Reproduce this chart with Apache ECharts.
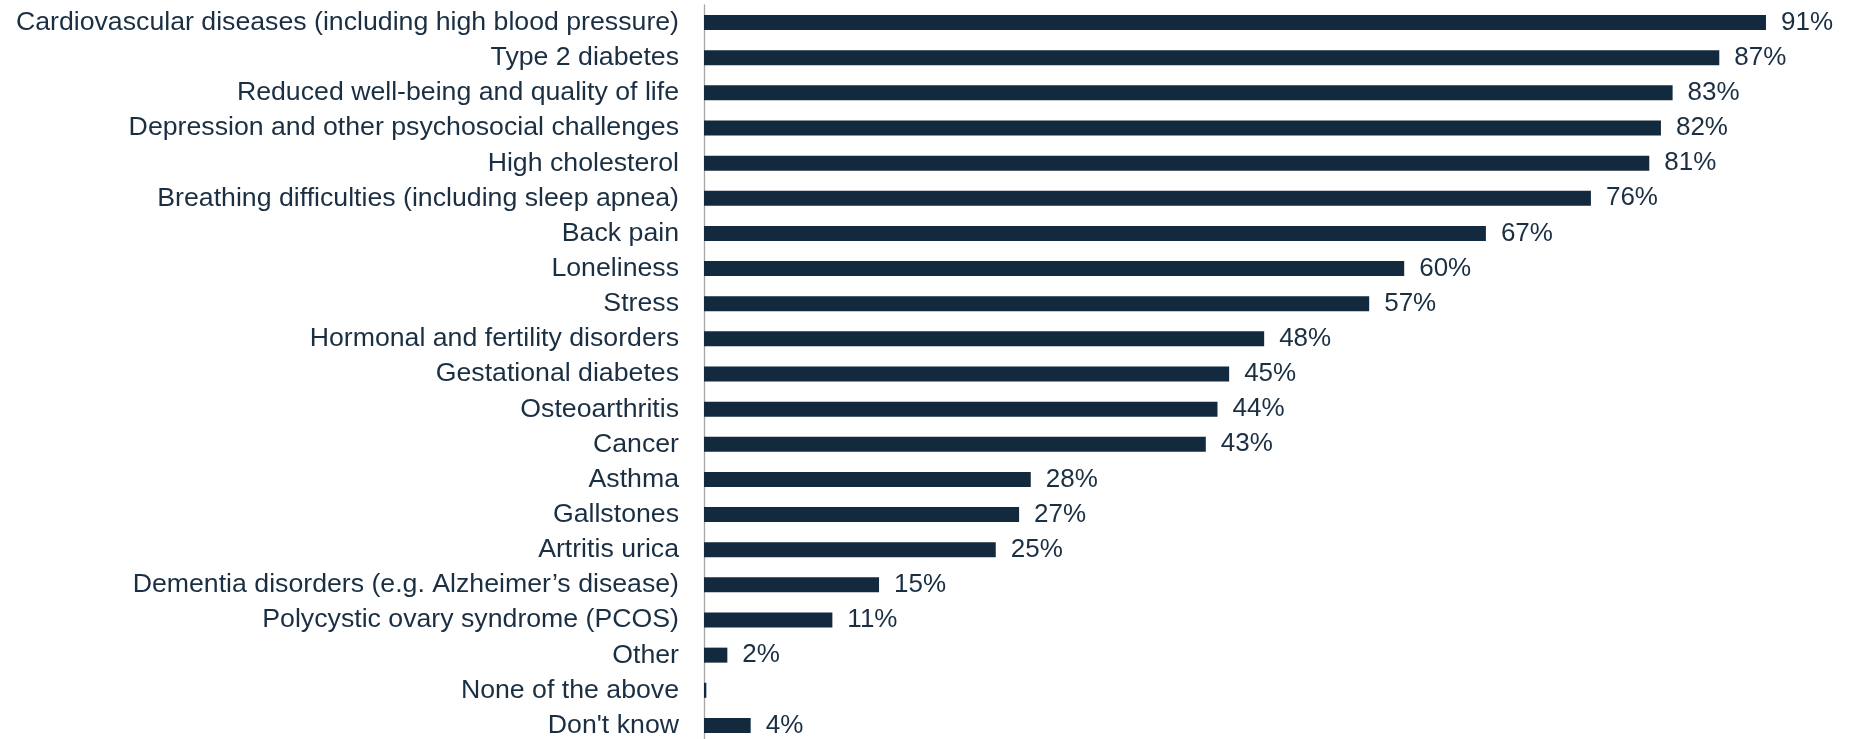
<!DOCTYPE html>
<html>
<head>
<meta charset="utf-8">
<title>Health consequences</title>
<script src="https://cdn.jsdelivr.net/npm/echarts@6/dist/echarts.min.js"></script>
<style>
  html, body { margin: 0; padding: 0; background: #ffffff; }
  #chart { width: 1865px; height: 739px; }
</style>
</head>
<body>
<div id="chart"></div>
<script>
// Conditions, listed top to bottom
const categories = [
  'Cardiovascular diseases (including high blood pressure)',
  'Type 2 diabetes',
  'Reduced well-being and quality of life',
  'Depression and other psychosocial challenges',
  'High cholesterol',
  'Breathing difficulties (including sleep apnea)',
  'Back pain',
  'Loneliness',
  'Stress',
  'Hormonal and fertility disorders',
  'Gestational diabetes',
  'Osteoarthritis',
  'Cancer',
  'Asthma',
  'Gallstones',
  'Artritis urica',
  'Dementia disorders (e.g. Alzheimer\u2019s disease)',
  'Polycystic ovary syndrome (PCOS)',
  'Other',
  'None of the above',
  "Don't know"
];

// Share of respondents, in percent
const shares = [91, 87, 83, 82, 81, 76, 67, 60, 57, 48, 45, 44, 43, 28, 27, 25, 15, 11, 2, 0.2, 4];

// Categories whose value label is left out
const unlabelled = ['None of the above'];

const barColor = '#13293d';
const textColor = '#1b2f43';
const fontFamily = '"Liberation Sans", Arial, Helvetica, sans-serif';

const chart = echarts.init(document.getElementById('chart'), null, { renderer: 'canvas' });

chart.setOption({
  animation: false,
  backgroundColor: '#ffffff',
  grid: {
    left: 704, top: 5, width: 1167, height: 738,
    containLabel: false,
    outerBoundsMode: 'none'
  },
  xAxis: {
    type: 'value',
    min: 0,
    max: 100,
    show: false
  },
  yAxis: {
    type: 'category',
    data: categories,
    inverse: true,
    axisLine: { show: true, lineStyle: { color: '#a6a6a6', width: 1.3 } },
    axisTick: { show: false },
    splitLine: { show: false },
    axisLabel: {
      interval: 0,
      margin: 25,
      color: textColor,
      fontFamily: fontFamily,
      fontSize: 26.7
    }
  },
  series: [{
    type: 'bar',
    barWidth: 15,
    itemStyle: { color: barColor },
    data: shares.map((v, i) => ({
      value: v,
      label: { show: unlabelled.indexOf(categories[i]) < 0 }
    })),
    label: {
      position: 'right',
      distance: 15,
      color: textColor,
      fontFamily: fontFamily,
      fontSize: 26,
      formatter: p => p.value + '%'
    }
  }]
});
</script>
</body>
</html>
